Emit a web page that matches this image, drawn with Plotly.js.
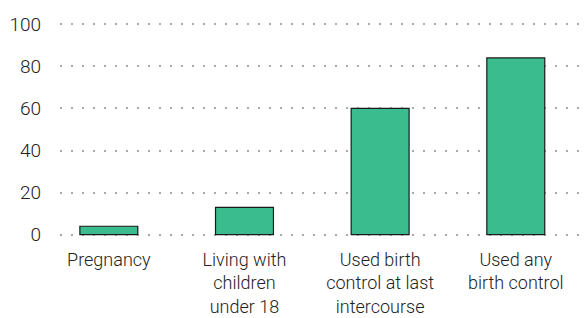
<!DOCTYPE html>
<html>
<head>
<meta charset="utf-8">
<script src="https://cdn.plot.ly/plotly-3.0.1.min.js"></script>
<style>html,body{margin:0;padding:0;background:#fff;}#chart{width:587px;height:318px;}</style>
</head>
<body>
<div id="chart"></div>
<script>
const categories = ["Pregnancy", "Living with<br>children<br>under 18", "Used birth<br>control at last<br>intercourse", "Used any<br>birth control"];
const values = [4, 13, 60, 84];
const yTicks = [0, 20, 40, 60, 80, 100];

const trace = {
  type: 'bar',
  x: categories,
  y: values,
  marker: {color: '#3BBC8F', line: {color: '#1a1a1a', width: 1.2}},
  hoverinfo: 'skip'
};

const xf = {family: 'Roboto, sans-serif', size: 18, color: '#222', weight: 300};
const yf = {family: 'Roboto, sans-serif', size: 19, color: '#222', weight: 300};

const layout = {
  width: 587, height: 318,
  margin: {l: 60, r: 0, t: 18, b: 77},
  paper_bgcolor: '#fff', plot_bgcolor: '#fff',
  showlegend: false,
  bargap: 0.573,
  font: xf,
  xaxis: {
    type: 'category',
    range: [-0.36, 3.525],
    showgrid: false, zeroline: false, showline: false, ticks: '',
    tickfont: xf,
    ticklabelstandoff: 6,
    fixedrange: true
  },
  yaxis: {
    range: [-3, 103],
    tickvals: yTicks,
    ticktext: yTicks.map(String),
    showgrid: true, gridcolor: '#aaaaaa', gridwidth: 2, griddash: '2px,9px',
    zeroline: false, showline: false, ticks: '',
    ticklabelstandoff: 18,
    tickfont: yf,
    fixedrange: true
  }
};

Plotly.newPlot('chart', [trace], layout, {displayModeBar: false, staticPlot: true});
</script>
</body>
</html>
